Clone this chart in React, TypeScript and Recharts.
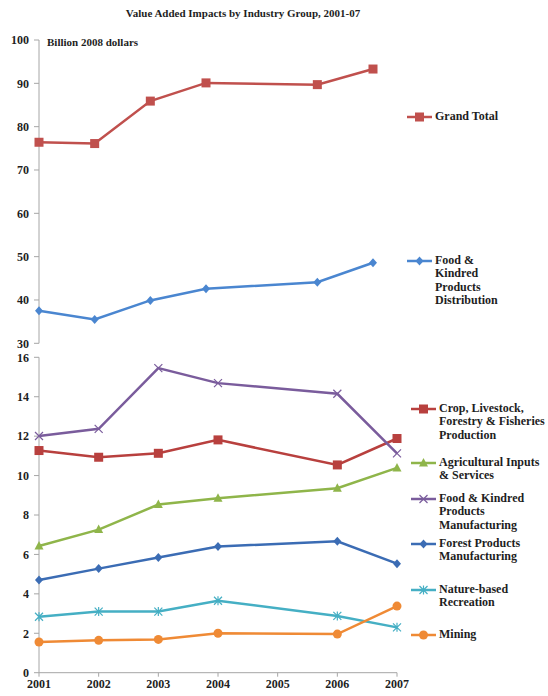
import { LineChart, Line, XAxis, YAxis } from "recharts";

// top panel
const topYears = [2001, 2002, 2003, 2004, 2006, 2007];
const grandTotal = [76.4, 76.1, 85.9, 90.1, 89.7, 93.3];
const foodDistribution = [37.5, 35.5, 39.9, 42.6, 44.1, 48.6];
const topTicks = [30, 40, 50, 60, 70, 80, 90, 100];

// bottom panel
const years = [2001, 2002, 2003, 2004, 2006, 2007];
const crop = [11.27, 10.93, 11.13, 11.81, 10.54, 11.88];
const agInputs = [6.43, 7.26, 8.53, 8.85, 9.36, 10.39];
const foodMfg = [12.01, 12.37, 15.45, 14.69, 14.15, 11.13];
const forest = [4.7, 5.28, 5.84, 6.4, 6.67, 5.53];
const nature = [2.84, 3.1, 3.1, 3.65, 2.88, 2.3];
const mining = [1.56, 1.64, 1.69, 2.0, 1.96, 3.38];
const bottomTicks = [0, 2, 4, 6, 8, 10, 12, 14, 16];
const yearTicks = [2001, 2002, 2003, 2004, 2005, 2006, 2007];

const topData = topYears.map((y, i) => ({ year: y, total: grandTotal[i], dist: foodDistribution[i] }));
const bottomData = years.map((y, i) => ({
  year: y,
  crop: crop[i],
  ag: agInputs[i],
  mfg: foodMfg[i],
  forest: forest[i],
  nature: nature[i],
  mining: mining[i],
}));

type Shape = "square" | "diamond" | "triangle" | "x" | "star" | "circle";

const FONT = "'Liberation Serif', 'Times New Roman', serif";
const tickStyle = { fontSize: 12, fontWeight: 700, fill: "#1e1e1e", fontFamily: FONT };
const AXIS = "#a6a6a6";

function Marker({ shape, cx, cy, color }: { shape: Shape; cx: number; cy: number; color: string }) {
  switch (shape) {
    case "square":
      return <rect x={cx - 4.5} y={cy - 4.5} width={9} height={9} fill={color} />;
    case "diamond":
      return <polygon points={`${cx},${cy - 4.5} ${cx + 4},${cy} ${cx},${cy + 4.5} ${cx - 4},${cy}`} fill={color} />;
    case "triangle":
      return <polygon points={`${cx},${cy - 5} ${cx + 4.5},${cy + 3.5} ${cx - 4.5},${cy + 3.5}`} fill={color} />;
    case "x":
      return (
        <path d={`M${cx - 4},${cy - 4}L${cx + 4},${cy + 4}M${cx - 4},${cy + 4}L${cx + 4},${cy - 4}`} stroke={color} strokeWidth={1.2} fill="none" />
      );
    case "star":
      return (
        <path
          d={`M${cx - 4},${cy - 4}L${cx + 4},${cy + 4}M${cx - 4},${cy + 4}L${cx + 4},${cy - 4}M${cx},${cy - 4.5}L${cx},${cy + 4.5}`}
          stroke={color}
          strokeWidth={1.2}
          fill="none"
        />
      );
    default:
      return <circle cx={cx} cy={cy} r={4.5} fill={color} />;
  }
}

const dotFor = (shape: Shape, color: string) => (p: any) =>
  <Marker key={p.index} shape={shape} cx={p.cx} cy={p.cy} color={color} />;

function LegendItem({ x, y, shape, color, lines }: { x: number; y: number; shape: Shape; color: string; lines: string[] }) {
  return (
    <div style={{ position: "absolute", left: x, top: y - 7, display: "flex", alignItems: "flex-start" }}>
      <svg width={27} height={14} style={{ flex: "none" }}>
        <line x1={1} y1={7} x2={26} y2={7} stroke={color} strokeWidth={2.5} />
        <Marker shape={shape} cx={13.5} cy={7} color={color} />
      </svg>
      <div style={{ fontFamily: FONT, fontWeight: 700, fontSize: 12, lineHeight: "13.4px", color: "#1e1e1e", marginLeft: 2, whiteSpace: "nowrap" }}>
        {lines.map((l) => (
          <div key={l}>{l}</div>
        ))}
      </div>
    </div>
  );
}

const series = [
  { key: "crop", shape: "square" as Shape, color: "#b8403e" },
  { key: "ag", shape: "triangle" as Shape, color: "#8fb54a" },
  { key: "mfg", shape: "x" as Shape, color: "#7a5c9c" },
  { key: "forest", shape: "diamond" as Shape, color: "#3b6cb4" },
  { key: "nature", shape: "star" as Shape, color: "#45afc4" },
  { key: "mining", shape: "circle" as Shape, color: "#ef8a35" },
];

export default function App() {
  return (
    <div style={{ position: "absolute", left: 0, top: 0, width: 548, height: 696, background: "#fff" }}>
      <div
        style={{
          position: "absolute",
          left: 0,
          top: 7,
          width: 486,
          textAlign: "center",
          fontFamily: FONT,
          fontWeight: 700,
          fontSize: 11,
          color: "#1e1e1e",
        }}
      >
        Value Added Impacts by Industry Group, 2001-07
      </div>

      <div style={{ position: "absolute", left: 0, top: 0 }}>
        <LineChart width={548} height={360} data={topData} margin={{ top: 40, right: 175, bottom: 16.7, left: 9 }}>
          <XAxis dataKey="year" type="number" domain={[2001, 2007]} hide />
          <YAxis
            type="number"
            domain={[30, 100]}
            ticks={topTicks}
            width={30}
            tick={tickStyle}
            tickSize={5}
            tickMargin={5}
            axisLine={{ stroke: AXIS }}
            tickLine={{ stroke: AXIS }}
            interval={0}
          />
          <Line dataKey="total" stroke="#c0504d" strokeWidth={2.5} dot={dotFor("square", "#c0504d")} isAnimationActive={false} />
          <Line dataKey="dist" stroke="#4a86d0" strokeWidth={2.5} dot={dotFor("diamond", "#4a86d0")} isAnimationActive={false} />
        </LineChart>
      </div>
      <div style={{ position: "absolute", left: 47, top: 36, fontFamily: FONT, fontWeight: 700, fontSize: 11, color: "#1e1e1e" }}>
        Billion 2008 dollars
      </div>

      <div style={{ position: "absolute", left: 0, top: 330 }}>
        <LineChart width={548} height={366} data={bottomData} margin={{ top: 27.3, right: 151, bottom: 1.3, left: 9 }}>
          <XAxis
            dataKey="year"
            type="number"
            domain={[2001, 2007]}
            ticks={yearTicks}
            height={22}
            tick={tickStyle}
            tickSize={4}
            tickMargin={3}
            axisLine={{ stroke: AXIS }}
            tickLine={{ stroke: AXIS }}
            interval={0}
          />
          <YAxis
            type="number"
            domain={[0, 16]}
            ticks={bottomTicks}
            width={30}
            tick={tickStyle}
            tickSize={5}
            tickMargin={5}
            axisLine={{ stroke: AXIS }}
            tickLine={{ stroke: AXIS }}
            interval={0}
          />
          {series.map((s) => (
            <Line key={s.key} dataKey={s.key} stroke={s.color} strokeWidth={2.5} dot={dotFor(s.shape, s.color)} isAnimationActive={false} />
          ))}
        </LineChart>
      </div>

      <LegendItem x={406} y={117} shape="square" color="#c0504d" lines={["Grand Total"]} />
      <LegendItem x={406} y={261} shape="diamond" color="#4a86d0" lines={["Food &", "Kindred", "Products", "Distribution"]} />
      <LegendItem x={410} y={409} shape="square" color="#b8403e" lines={["Crop, Livestock,", "Forestry & Fisheries", "Production"]} />
      <LegendItem x={410} y={463} shape="triangle" color="#8fb54a" lines={["Agricultural Inputs", "& Services"]} />
      <LegendItem x={410} y={499} shape="x" color="#7a5c9c" lines={["Food & Kindred", "Products", "Manufacturing"]} />
      <LegendItem x={410} y={544} shape="diamond" color="#3b6cb4" lines={["Forest Products", "Manufacturing"]} />
      <LegendItem x={410} y={590} shape="star" color="#45afc4" lines={["Nature-based", "Recreation"]} />
      <LegendItem x={410} y={635} shape="circle" color="#ef8a35" lines={["Mining"]} />
    </div>
  );
}
